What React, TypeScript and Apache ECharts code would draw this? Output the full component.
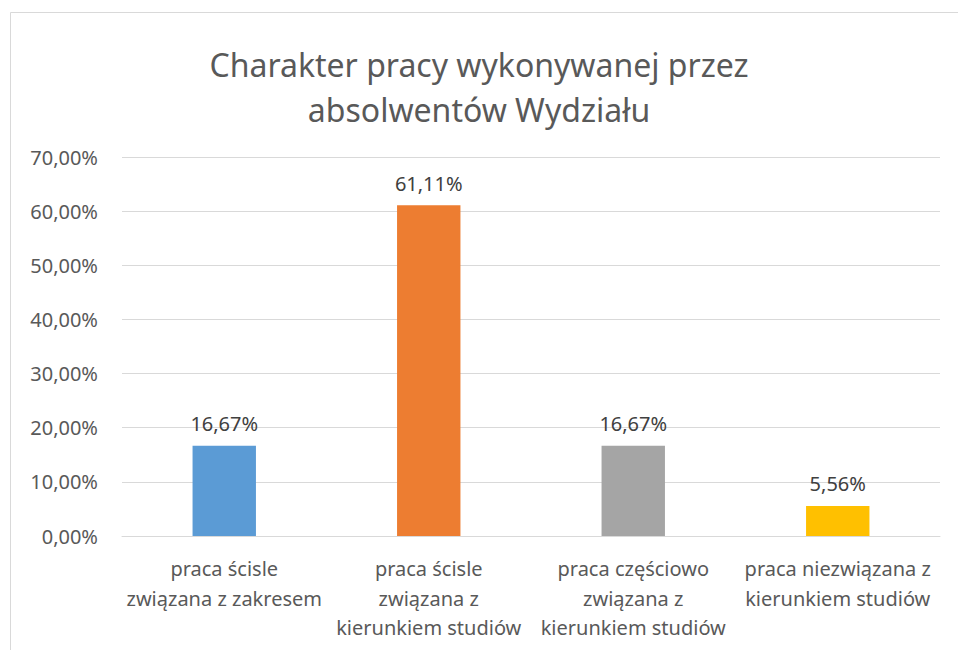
import React, { useEffect, useRef } from "react";
import * as echarts from "echarts";

const categories = [
  "praca ścisle\nzwiązana z zakresem",
  "praca ścisle\nzwiązana z\nkierunkiem studiów",
  "praca częściowo\nzwiązana z\nkierunkiem studiów",
  "praca niezwiązana z\nkierunkiem studiów",
];
const values = [16.67, 61.11, 16.67, 5.56];
const colors = ["#5B9BD5", "#ED7D31", "#A5A5A5", "#FFC000"];
const titleText = "Charakter pracy wykonywanej przez\nabsolwentów Wydziału";

const fmt = (v: number) => v.toFixed(2).replace(".", ",") + "%";

export default function App() {
  const ref = useRef<HTMLDivElement>(null);
  useEffect(() => {
    document.body.style.margin = "0";
    const chart = echarts.init(ref.current!, undefined, { renderer: "svg" });
    const font = "'Noto Sans', sans-serif";
    chart.setOption({
      animation: false,
      backgroundColor: "#ffffff",
      title: {
        text: titleText,
        left: "center",
        top: 37,
        textStyle: {
          fontFamily: font,
          fontSize: 32,
          fontWeight: "normal",
          color: "#595959",
          lineHeight: 45,
        },
      },
      graphic: [
        {
          type: "rect",
          shape: { x: 10.5, y: 12.5, width: 1000, height: 1000 },
          style: { fill: "none", stroke: "#d9d9d9", lineWidth: 1 },
          silent: true,
        },
      ],
      grid: { left: 122, right: 18, top: 157, bottom: 114, containLabel: false },
      xAxis: {
        type: "category",
        data: categories,
        axisTick: { show: false },
        axisLine: { lineStyle: { color: "#d9d9d9", width: 1 } },
        axisLabel: {
          interval: 0,
          fontFamily: font,
          fontSize: 20,
          color: "#595959",
          lineHeight: 29.5,
          margin: 18,
        },
      },
      yAxis: {
        type: "value",
        min: 0,
        max: 70,
        interval: 10,
        axisLine: { show: false },
        axisTick: { show: false },
        splitLine: { lineStyle: { color: "#d9d9d9", width: 1 } },
        axisLabel: {
          formatter: (v: number) => fmt(v),
          fontFamily: font,
          fontSize: 20,
          color: "#595959",
          margin: 24,
        },
      },
      series: [
        {
          type: "bar",
          barWidth: "31%",
          data: values.map((v, i) => ({ value: v, itemStyle: { color: colors[i] } })),
          label: {
            show: true,
            position: "top",
            distance: 12,
            formatter: (p: any) => fmt(p.value),
            fontFamily: font,
            fontSize: 20,
            color: "#404040",
          },
        },
      ],
    });
    return () => chart.dispose();
  }, []);
  return <div ref={ref} style={{ width: 958, height: 650 }} />;
}
